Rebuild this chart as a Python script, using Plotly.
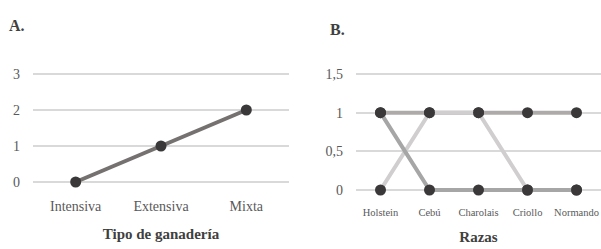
import plotly.graph_objects as go

# Panel A data
tipos = ["Intensiva", "Extensiva", "Mixta"]
valores_tipo = [0, 1, 2]

# Panel B data
razas = ["Holstein", "Cebú", "Charolais", "Criollo", "Normando"]
serie_b3 = [1, 1, 1, 1, 1]
serie_b2 = [0, 1, 1, 0, 0]
serie_b1 = [1, 0, 0, 0, 0]

yticks_a = [0, 1, 2, 3]
yticks_b = [0, 0.5, 1, 1.5]
yticks_b_text = ["0", "0,5", "1", "1,5"]

FONT = "Liberation Serif"
MARK = "#3a3838"
GRID = "#d9d9d9"
TXT = "#595959"
W, H = 601, 249

fig = go.Figure()

fig.add_trace(go.Scatter(x=tipos, y=valores_tipo, mode="lines+markers",
                         line=dict(color="#767171", width=4),
                         marker=dict(color=MARK, size=11),
                         xaxis="x", yaxis="y", cliponaxis=False, showlegend=False))

for vals, col in [(serie_b3, "#aeaaaa"), (serie_b2, "#d0cece"), (serie_b1, "#a6a6a6")]:
    fig.add_trace(go.Scatter(x=razas, y=vals, mode="lines+markers",
                             line=dict(color=col, width=4),
                             marker=dict(color=MARK, size=11),
                             xaxis="x2", yaxis="y2", cliponaxis=False, showlegend=False))

axis_common = dict(showline=False, zeroline=False, ticks="", fixedrange=True,
                   automargin=False)

a_pad = 0.05 * 36
b_pad = 0.03 * (116 / 1.5)

fig.update_layout(
    width=W, height=H,
    margin=dict(l=0, r=0, t=0, b=0),
    paper_bgcolor="white", plot_bgcolor="white",
    font=dict(family=FONT, color=TXT),
    xaxis=dict(domain=[33/W, 289/W], anchor="y", type="category",
               range=[-0.5, 2.5], showgrid=False, tickfont=dict(size=14, color=TXT),
               ticklabelstandoff=12,
               title=dict(text="<b>Tipo de ganadería</b>", font=dict(size=15, color="#404040"),
                          standoff=15),
               **axis_common),
    yaxis=dict(domain=[(H-182-a_pad)/H, (H-74+a_pad)/H], anchor="x", range=[-0.05, 3.05],
               tickvals=yticks_a, showgrid=True, gridcolor=GRID, gridwidth=1.5,
               tickfont=dict(size=14, color=TXT), ticklabelstandoff=12,
               **axis_common),
    xaxis2=dict(domain=[356/W, 1.0], anchor="y2", type="category",
                range=[-0.5, 4.5], showgrid=False, tickfont=dict(size=10.5, color=TXT),
                ticklabelstandoff=12,
                title=dict(text="<b>Razas</b>", font=dict(size=15, color="#404040"),
                           standoff=14),
                **axis_common),
    yaxis2=dict(domain=[(H-190-b_pad)/H, (H-74+b_pad)/H], anchor="x2", range=[-0.03, 1.53],
                tickvals=yticks_b, ticktext=yticks_b_text, showgrid=True,
                gridcolor=GRID, gridwidth=1.5,
                tickfont=dict(size=14, color=TXT), ticklabelstandoff=12,
                **axis_common),
    annotations=[
        dict(text="<b>A.</b>", x=7/W, y=1-26/H, xref="paper", yref="paper", showarrow=False,
             font=dict(size=16, color="#404040"), xanchor="left", yanchor="middle"),
        dict(text="<b>B.</b>", x=328/W, y=1-30/H, xref="paper", yref="paper", showarrow=False,
             font=dict(size=16, color="#404040"), xanchor="left", yanchor="middle"),
    ],
)

fig.write_html("out.html", config={"displayModeBar": False},
               post_script="document.body.style.margin='0';document.body.style.overflow='hidden';")
